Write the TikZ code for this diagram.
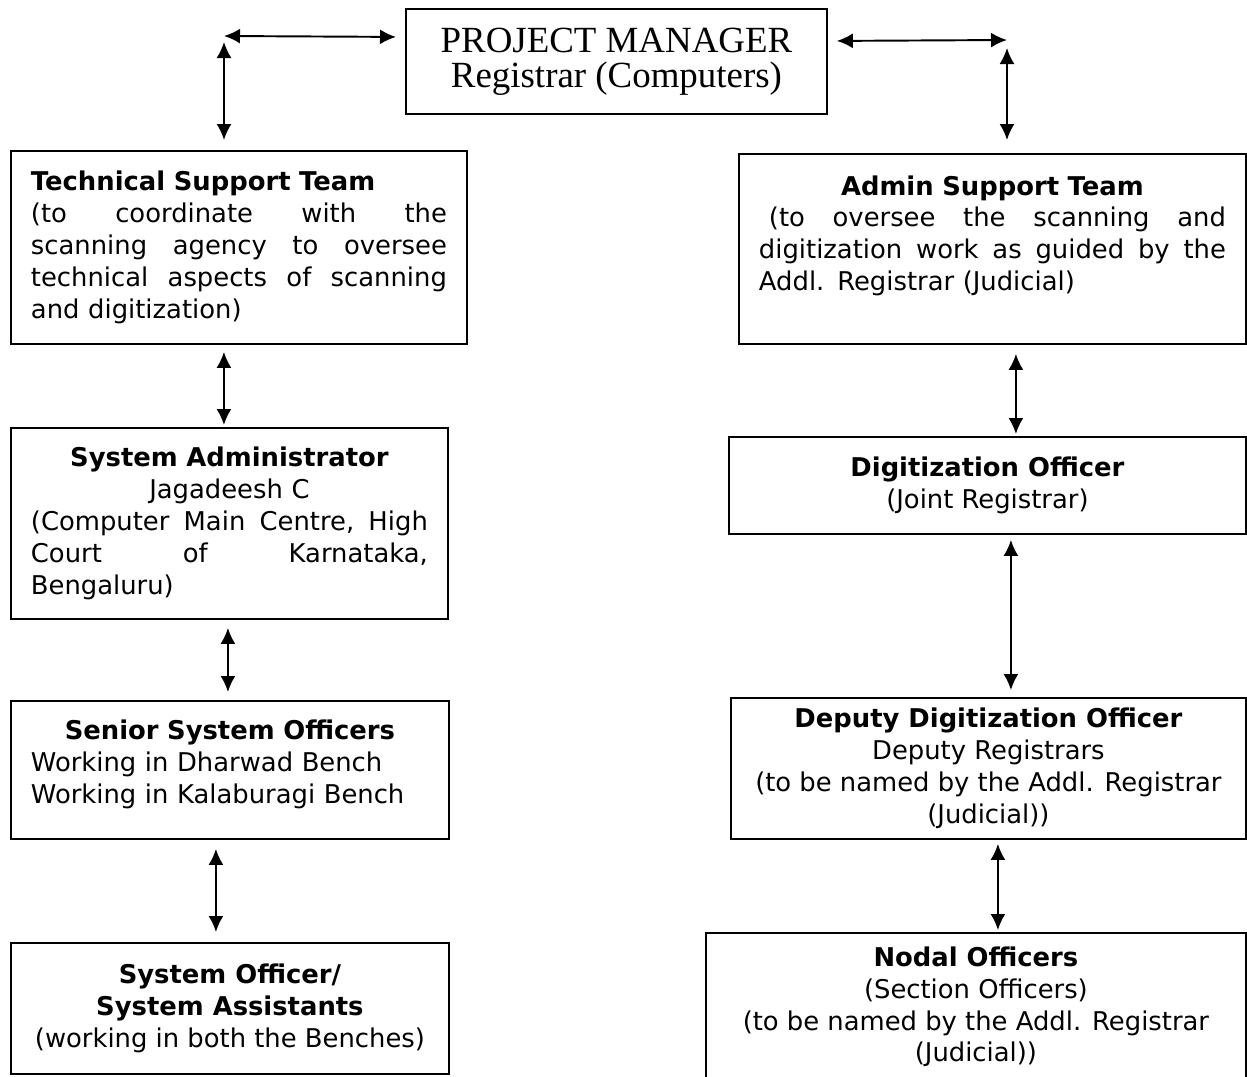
\documentclass[tikz,border=0pt]{standalone}
\usepackage{fontspec}
\usetikzlibrary{arrows.meta}

\newfontfamily\boxfamily{DejaVu Sans}
\newfontfamily\titlefamily{Liberation Serif}
\newcommand{\boxfont}{\boxfamily\fontsize{14.7}{18.1}\selectfont}
\newcommand{\titlefont}{\titlefamily\fontsize{21}{20}\selectfont}
\newcommand{\ctr}[1]{\mbox{}\hfill#1\hfill\mbox{}}

\tikzset{
  box/.style={draw, line width=1.1pt, anchor=north west, inner xsep=0.4cm, font=\boxfont, align=center},
  link/.style={<->, line width=1.1pt},
  >={Latex[length=0.32cm, width=0.3cm]}
}

\begin{document}
\begin{tikzpicture}[x=0.02cm, y=-0.02cm]
    \useasboundingbox (0,0) rectangle (1247,1076);

    \node[box, font=\titlefont, minimum width=8.42cm, minimum height=2.1cm] (pm) at (405,8) {PROJECT MANAGER\\Registrar (Computers)};

    % left column
    \node[box, align=left, text width=8.32cm, minimum width=9.12cm, minimum height=3.86cm] (tech) at (10,150) {\textbf{Technical Support Team}\\
      (to\hfill coordinate\hfill with\hfill the\\
      scanning\hfill agency\hfill to\hfill oversee\\
      technical\hfill aspects\hfill of\hfill scanning\\
      and digitization)};
    \node[box, align=left, text width=7.94cm, minimum width=8.74cm, minimum height=3.82cm] (sysadm) at (10,427) {\ctr{\textbf{System Administrator}}\\
      \ctr{Jagadeesh C}\\
      (Computer\hfill Main\hfill Centre,\hfill High\\
      Court\hfill of\hfill Karnataka,\\
      Bengaluru)};
    \node[box, align=left, text width=7.96cm, minimum width=8.76cm, minimum height=2.76cm] (senior) at (10,700) {\ctr{\textbf{Senior System Officers}}\\
      Working in Dharwad Bench\\
      Working in Kalaburagi Bench\\[-0.3cm]
      \mbox{}};
    \node[box, minimum width=8.76cm, minimum height=2.62cm] (sysoff) at (10,942) {\textbf{System Officer/}\\\textbf{System Assistants}\\(working in both the Benches)};

    % right column
    \node[box, align=left, text width=9.34cm, minimum width=10.14cm, minimum height=3.8cm] (admin) at (738,153) {\ctr{\textbf{Admin Support Team}}\\
      \hspace*{0.2cm}(to\hfill oversee\hfill the\hfill scanning\hfill and\\
      digitization\hfill work\hfill as\hfill guided\hfill by\hfill the\\
      Addl. Registrar (Judicial)\\
      \mbox{}};
    \node[box, minimum width=10.34cm, minimum height=1.94cm] (digit) at (728,436) {\textbf{Digitization Officer}\\(Joint Registrar)};
    \node[box, minimum width=10.3cm, minimum height=2.82cm] (deputy) at (730,697) {\textbf{Deputy Digitization Officer}\\Deputy Registrars\\(to be named by the Addl. Registrar\\(Judicial))};
    \node[box, minimum width=10.8cm, minimum height=2.96cm] (nodal) at (705,932) {\textbf{Nodal Officers}\\(Section Officers)\\(to be named by the Addl. Registrar\\(Judicial))};

    % arrows from the manager
    \coordinate (tl) at (224,36);
    \coordinate (tr) at (1007,40);
    \draw[link, shorten >=0.18cm] (tl) -- ([yshift=0.49cm]pm.west);
    \draw[link, shorten <=0.12cm, shorten >=0.2cm] (tl) -- (tl |- tech.north);
    \draw[link, shorten >=0.18cm] (tr) -- ([yshift=0.41cm]pm.east);
    \draw[link, shorten <=0.16cm, shorten >=0.26cm] (tr) -- (tr |- admin.north);

    % arrows down the columns
    \draw[link, shorten <=0.14cm, shorten >=0.04cm] ([xshift=-0.3cm]tech.south) -- ([xshift=-0.3cm]tech.south |- sysadm.north);
    \draw[link, shorten <=0.16cm, shorten >=0.16cm] ([xshift=-0.03cm]sysadm.south) -- ([xshift=-0.03cm]sysadm.south |- senior.north);
    \draw[link, shorten <=0.18cm, shorten >=0.2cm] ([xshift=-0.28cm]senior.south) -- ([xshift=-0.28cm]senior.south |- sysoff.north);
    \draw[link, shorten <=0.18cm, shorten >=0.04cm] ([xshift=0.47cm]admin.south) -- ([xshift=0.47cm]admin.south |- digit.north);
    \draw[link, shorten <=0.1cm, shorten >=0.14cm] ([xshift=0.47cm]digit.south) -- ([xshift=0.47cm]digit.south |- deputy.north);
    \draw[link, shorten <=0.08cm, shorten >=0.04cm] ([xshift=0.19cm]deputy.south) -- ([xshift=0.19cm]deputy.south |- nodal.north);
\end{tikzpicture}
\end{document}
